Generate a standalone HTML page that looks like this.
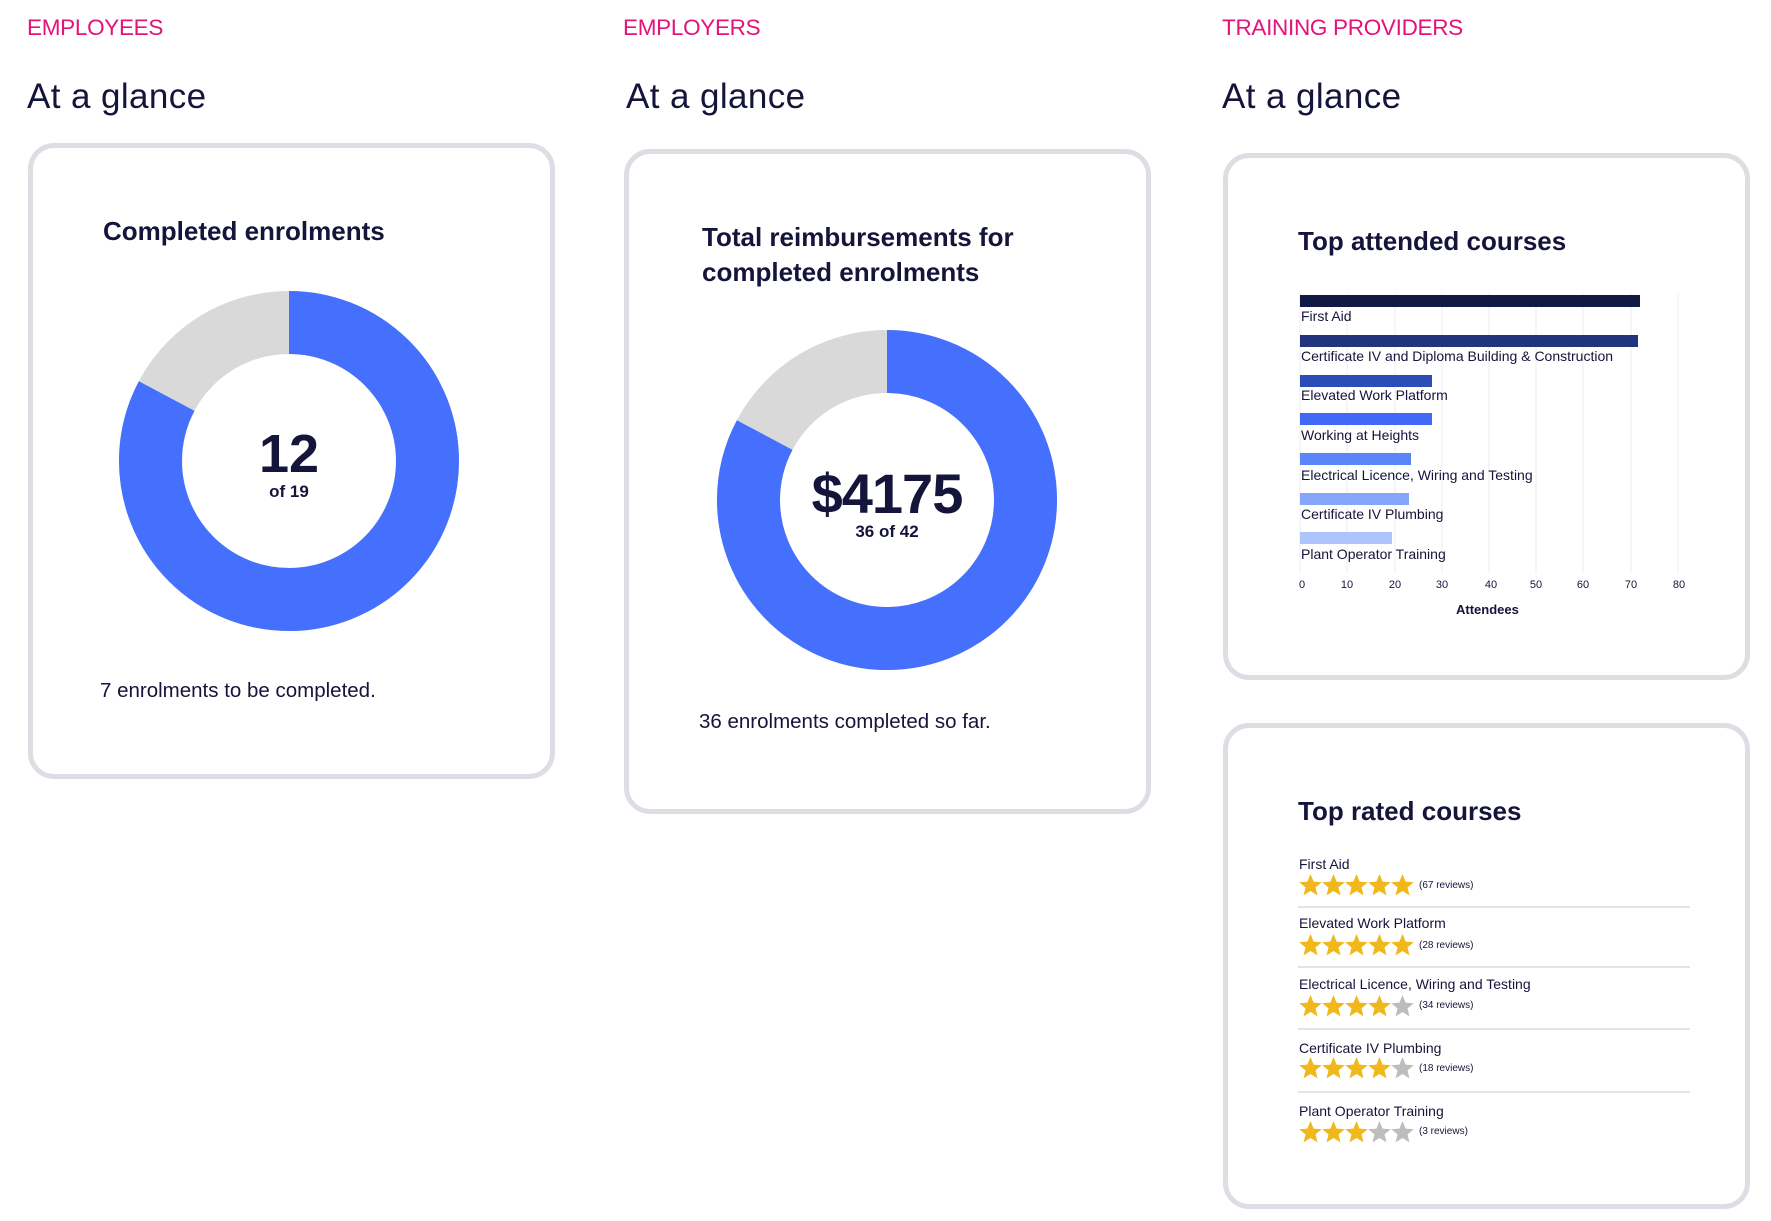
<!DOCTYPE html>
<html><head><meta charset="utf-8"><style>
*{margin:0;padding:0;box-sizing:border-box}
body{width:1771px;height:1221px;background:#fff;position:relative;overflow:hidden;font-family:"Liberation Sans",sans-serif;color:#15143a}
.a{position:absolute;white-space:nowrap}
.col{position:absolute;left:0;top:0;width:1771px;height:1221px}
.sec{font-size:22.5px;color:#e5127a;letter-spacing:-0.3px}
.gl{font-size:35px;color:#15143a;letter-spacing:0.4px}
.card{position:absolute;border:5px solid #dddde3;border-radius:26px;background:#fff}
.t{font-weight:bold;font-size:26px}
.lab{font-size:14px}
.tick{font-size:11px;transform:translateX(-50%)}
.nm{font-size:14px}
.rv{font-size:10px}
.sep{position:absolute;left:1304px;width:392px;height:2px;background:#e3e3e8}
</style></head><body>
<div class="a sec" style="left:27px;top:15px">EMPLOYEES</div>
<div class="a gl" style="left:27px;top:77px">At a glance</div>
<div class="card" style="left:28px;top:143px;width:527px;height:636px"></div>
<div class="a t" style="left:103px;top:216px">Completed enrolments</div>
<svg class="a" style="left:0;top:0" width="600" height="800">
<circle cx="289" cy="461" r="138.5" fill="none" stroke="#d9d9d9" stroke-width="63"/>
<circle cx="289" cy="461" r="138.5" fill="none" stroke="#4470fd" stroke-width="63" stroke-dasharray="720 900" transform="rotate(-90 289 461)"/>
</svg>
<div class="a" style="left:229px;top:424px;width:120px;text-align:center;font-weight:bold;font-size:54px;line-height:60px">12</div>
<div class="a" style="left:229px;top:482px;width:120px;text-align:center;font-weight:bold;font-size:17px">of 19</div>
<div class="a" style="left:100px;top:679px;font-size:20.5px">7 enrolments to be completed.</div>

<div class="col" style="transform:translateX(-4px)">
<div class="a sec" style="left:627px;top:15px">EMPLOYERS</div>
<div class="a gl" style="left:630px;top:77px">At a glance</div>
<div class="card" style="left:628px;top:149px;width:527px;height:665px"></div>
<svg class="a" style="left:0;top:0" width="1200" height="800">
<circle cx="891" cy="500" r="138.5" fill="none" stroke="#d9d9d9" stroke-width="63"/>
<circle cx="891" cy="500" r="138.5" fill="none" stroke="#4470fd" stroke-width="63" stroke-dasharray="720 900" transform="rotate(-90 891 500)"/>
</svg>
<div class="a t" style="left:706px;top:220px;line-height:35px">Total reimbursements for<br>completed enrolments</div>
<div class="a" style="left:781px;top:463px;width:220px;text-align:center;font-weight:bold;font-size:56px;line-height:62px;letter-spacing:-1px">$4175</div>
<div class="a" style="left:791px;top:522px;width:200px;text-align:center;font-weight:bold;font-size:17px">36 of 42</div>
<div class="a" style="left:703px;top:710px;font-size:20.5px">36 enrolments completed so far.</div>
</div>

<div class="col" style="transform:translateX(-6px)">
<div class="a sec" style="left:1228px;top:15px">TRAINING PROVIDERS</div>
<div class="a gl" style="left:1228px;top:77px">At a glance</div>
<div class="card" style="left:1229px;top:153px;width:527px;height:527px"></div>
<div class="card" style="left:1229px;top:723px;width:527px;height:486px"></div>
<svg class="a" style="left:0;top:0" width="1771" height="1221">
<g stroke="#ececf0" stroke-width="1">
<line x1="1306" y1="293" x2="1306" y2="573"/><line x1="1353" y1="293" x2="1353" y2="573"/>
<line x1="1401" y1="293" x2="1401" y2="573"/><line x1="1448" y1="293" x2="1448" y2="573"/>
<line x1="1495" y1="293" x2="1495" y2="573"/><line x1="1542" y1="293" x2="1542" y2="573"/>
<line x1="1589" y1="293" x2="1589" y2="573"/><line x1="1637" y1="293" x2="1637" y2="573"/>
<line x1="1684" y1="293" x2="1684" y2="573"/></g>
<rect x="1306" y="295" width="340" height="12" fill="#111a45"/>
<rect x="1306" y="335" width="338" height="12" fill="#22347e"/>
<rect x="1306" y="375" width="132" height="12" fill="#2c4db8"/>
<rect x="1306" y="413" width="132" height="12" fill="#4169f6"/>
<rect x="1306" y="453" width="111" height="12" fill="#5a86f9"/>
<rect x="1306" y="493" width="109" height="12" fill="#86a6fb"/>
<rect x="1306" y="532" width="92" height="12" fill="#aec4fc"/>
<defs><path id="st" d="M11.5 0 L14.6 7.6 L22.8 8.2 L16.5 13.4 L18.5 21.4 L11.5 17 L4.5 21.4 L6.5 13.4 L0.2 8.2 L8.4 7.6 Z"/></defs>
<g fill="#f0b81a">
<use href="#st" x="1305" y="874"/><use href="#st" x="1328" y="874"/><use href="#st" x="1351" y="874"/><use href="#st" x="1374" y="874"/><use href="#st" x="1397" y="874"/>
<use href="#st" x="1305" y="934"/><use href="#st" x="1328" y="934"/><use href="#st" x="1351" y="934"/><use href="#st" x="1374" y="934"/><use href="#st" x="1397" y="934"/>
<use href="#st" x="1305" y="995"/><use href="#st" x="1328" y="995"/><use href="#st" x="1351" y="995"/><use href="#st" x="1374" y="995"/>
<use href="#st" x="1305" y="1057"/><use href="#st" x="1328" y="1057"/><use href="#st" x="1351" y="1057"/><use href="#st" x="1374" y="1057"/>
<use href="#st" x="1305" y="1121"/><use href="#st" x="1328" y="1121"/><use href="#st" x="1351" y="1121"/>
</g>
<g fill="#bdbdbd">
<use href="#st" x="1397" y="995"/><use href="#st" x="1397" y="1057"/><use href="#st" x="1374" y="1121"/><use href="#st" x="1397" y="1121"/>
</g>
</svg>
<div class="a t" style="left:1304px;top:226px">Top attended courses</div>
<div class="a lab" style="left:1307px;top:308px">First Aid</div>
<div class="a lab" style="left:1307px;top:348px">Certificate IV and Diploma Building &amp; Construction</div>
<div class="a lab" style="left:1307px;top:387px">Elevated Work Platform</div>
<div class="a lab" style="left:1307px;top:427px">Working at Heights</div>
<div class="a lab" style="left:1307px;top:467px">Electrical Licence, Wiring and Testing</div>
<div class="a lab" style="left:1307px;top:506px">Certificate IV Plumbing</div>
<div class="a lab" style="left:1307px;top:546px">Plant Operator Training</div>
<div class="a tick" style="left:1308px;top:579px">0</div>
<div class="a tick" style="left:1353px;top:579px">10</div>
<div class="a tick" style="left:1401px;top:579px">20</div>
<div class="a tick" style="left:1448px;top:579px">30</div>
<div class="a tick" style="left:1497px;top:579px">40</div>
<div class="a tick" style="left:1542px;top:579px">50</div>
<div class="a tick" style="left:1589px;top:579px">60</div>
<div class="a tick" style="left:1637px;top:579px">70</div>
<div class="a tick" style="left:1685px;top:579px">80</div>
<div class="a" style="left:1462px;top:602px;font-weight:bold;font-size:13px">Attendees</div>

<div class="a t" style="left:1304px;top:796px">Top rated courses</div>
<div class="a nm" style="left:1305px;top:856px">First Aid</div>
<div class="a rv" style="left:1425px;top:880px">(67 reviews)</div>
<div class="sep" style="top:906px"></div>
<div class="a nm" style="left:1305px;top:915px">Elevated Work Platform</div>
<div class="a rv" style="left:1425px;top:940px">(28 reviews)</div>
<div class="sep" style="top:966px"></div>
<div class="a nm" style="left:1305px;top:976px">Electrical Licence, Wiring and Testing</div>
<div class="a rv" style="left:1425px;top:1000px">(34 reviews)</div>
<div class="sep" style="top:1028px"></div>
<div class="a nm" style="left:1305px;top:1040px">Certificate IV Plumbing</div>
<div class="a rv" style="left:1425px;top:1063px">(18 reviews)</div>
<div class="sep" style="top:1091px"></div>
<div class="a nm" style="left:1305px;top:1103px">Plant Operator Training</div>
<div class="a rv" style="left:1425px;top:1126px">(3 reviews)</div>
</div>
</body></html>
